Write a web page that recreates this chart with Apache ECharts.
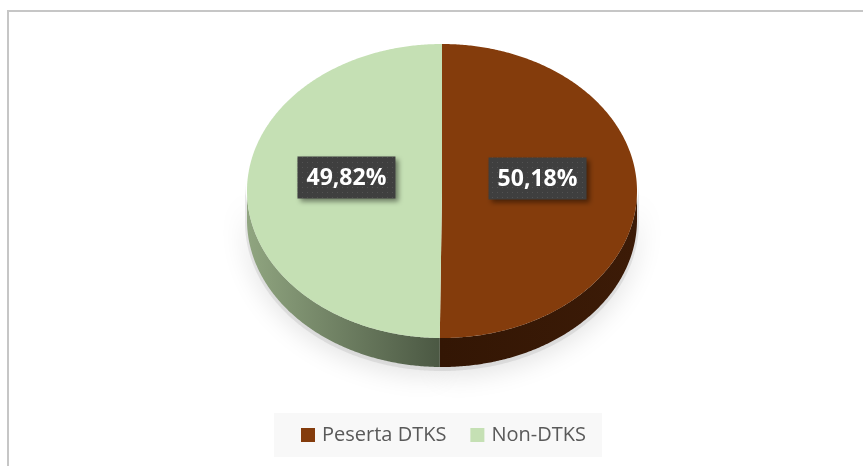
<!DOCTYPE html>
<html>
<head>
<meta charset="utf-8">
<script src="https://cdn.jsdelivr.net/npm/echarts@6/dist/echarts.min.js"></script>
<style>
  html, body { margin: 0; padding: 0; background: #ffffff; }
  #chart { width: 863px; height: 466px; }
</style>
</head>
<body>
<div id="chart"></div>
<script>
// ---- data ----
const categories = ['Peserta DTKS', 'Non-DTKS'];
const values = [50.18, 49.82];
const labelTexts = ['50,18%', '49,82%'];

// ---- styling / layout ----
const topColors = ['#843C0C', '#C5E0B4'];
const sideColors = [
  { type: 'linear', x: 0, y: 0, x2: 1, y2: 0, colorStops: [{ offset: 0, color: '#331604' }, { offset: 1, color: '#3c1b07' }] },
  { type: 'linear', x: 0, y: 0, x2: 1, y2: 0, colorStops: [{ offset: 0, color: '#90a580' }, { offset: 1, color: '#4b5843' }] }
];
const CX = 442, CY = 191, RX = 195, RY = 147, DEPTH = 29;
const LABEL_R = 0.49, LABEL_LIFT = 13;

const total = values.reduce((a, b) => a + b, 0);
function sliceAngles(i) {
  let start = 0;
  for (let k = 0; k < i; k++) start += values[k] / total * 360;
  return [start, start + values[i] / total * 360];
}
function pt(theta, dy, grow) {
  const r = theta * Math.PI / 180;
  const g = grow || 0;
  return [CX + (RX + g) * Math.sin(r), CY - (RY + g) * Math.cos(r) + (dy || 0)];
}
function arc(a, b, dy, grow) {
  const pts = [];
  const n = Math.max(2, Math.ceil(Math.abs(b - a) / 0.5));
  for (let k = 0; k <= n; k++) pts.push(pt(a + (b - a) * k / n, dy, grow));
  return pts;
}

// dotted pattern for label boxes
const pat = document.createElement('canvas');
pat.width = 5; pat.height = 5;
const pctx = pat.getContext('2d');
pctx.fillStyle = '#3f3f3f'; pctx.fillRect(0, 0, 5, 5);
pctx.fillStyle = '#525252'; pctx.fillRect(2, 2, 1, 1);

function renderSide(params, api) {
  const i = api.value(0);
  const [t0, t1] = sliceAngles(i);
  const a = Math.max(t0, 90), b = Math.min(t1, 270);
  if (a >= b) return null;
  const pts = arc(a, b, 0).concat(arc(b, a, DEPTH));
  // soft shadow band behind the side wall
  const sh = arc(a, b, -10, 2).concat(arc(b, a, DEPTH + 2, 2));
  return {
    type: 'group',
    children: [
      {
        type: 'polygon', z2: 0,
        shape: { points: sh },
        style: {
          fill: 'rgba(180,180,180,0.3)',
          shadowBlur: 26, shadowColor: 'rgba(0,0,0,0.38)', shadowOffsetY: 5
        }
      },
      {
        type: 'polygon', z2: 1,
        shape: { points: pts },
        style: { fill: sideColors[i] }
      }
    ]
  };
}

function renderTop(params, api) {
  const i = api.value(0);
  const [t0, t1] = sliceAngles(i);
  const pts = [[CX, CY]].concat(arc(t0, t1, 0));
  const mid = (t0 + t1) / 2;
  const lp = pt(mid, 0);
  const lx = CX + (lp[0] - CX) * LABEL_R;
  const ly = CY + (lp[1] - CY) * LABEL_R - LABEL_LIFT;
  const bw = 98, bh = 42;
  return {
    type: 'group',
    children: [
      { type: 'polygon', shape: { points: pts }, style: { fill: topColors[i] } },
      {
        type: 'rect', z2: 10,
        shape: { x: lx - bw / 2, y: ly - bh / 2, width: bw, height: bh },
        style: {
          fill: { image: pat, repeat: 'repeat' },
          shadowBlur: 5, shadowOffsetX: 3, shadowOffsetY: 3, shadowColor: 'rgba(0,0,0,0.45)'
        }
      },
      {
        type: 'text', z2: 11, x: lx, y: ly + 1,
        style: {
          text: labelTexts[i], fill: '#ffffff',
          font: 'bold 23px "Open Sans"', align: 'center', verticalAlign: 'middle'
        }
      }
    ]
  };
}

const series = [{
  type: 'custom', name: '__side', z: 1, coordinateSystem: 'none', silent: true,
  renderItem: renderSide, data: categories.map((c, i) => [i])
}].concat(categories.map((c, i) => ({
  type: 'custom', name: c, z: 2, coordinateSystem: 'none', silent: true,
  itemStyle: { color: topColors[i] },
  renderItem: renderTop, data: [[i]]
})));

const chart = echarts.init(document.getElementById('chart'), null, { renderer: 'canvas' });
chart.setOption({
  animation: false,
  backgroundColor: '#ffffff',
  graphic: [{
    type: 'rect', z: 0,
    shape: { x: 8, y: 11, width: 900, height: 520 },
    style: { fill: 'none', stroke: '#c6c6c6', lineWidth: 2 }
  }],
  legend: {
    data: categories,
    left: 274, top: 413,
    backgroundColor: '#f8f8f8',
    padding: [12, 16, 12, 27],
    icon: 'rect', itemWidth: 14, itemHeight: 14, itemGap: 24,
    selectedMode: false,
    textStyle: { fontFamily: 'Open Sans', fontSize: 20, color: '#595959', padding: [0, 0, 0, 2] }
  },
  series: series
});
</script>
</body>
</html>
